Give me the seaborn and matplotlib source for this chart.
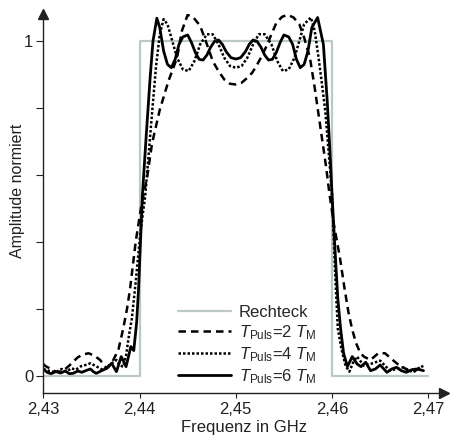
import numpy as np
import matplotlib
matplotlib.use("Agg")
import matplotlib.pyplot as plt
import seaborn as sns

# frequency axis in GHz, amplitude normalised
rect_f = [2.430, 2.440, 2.440, 2.460, 2.460, 2.470]
rect_v = [0, 0, 1, 1, 0, 0]

t2_f = [2.4300, 2.4302, 2.4308, 2.4313, 2.4317, 2.4322, 2.4327, 2.4331, 2.4336, 2.4341,
        2.4347, 2.4353, 2.4359, 2.4363, 2.4366, 2.4371, 2.4375, 2.4378, 2.4383, 2.4387,
        2.4390, 2.4396, 2.4402, 2.4408, 2.4413, 2.4421, 2.4430, 2.4439, 2.4444, 2.4450,
        2.4456, 2.4463, 2.4470, 2.4476, 2.4482, 2.4488, 2.4494, 2.4500, 2.4506, 2.4512,
        2.4517, 2.4521, 2.4527, 2.4532, 2.4537, 2.4542, 2.4548, 2.4554, 2.4560, 2.4566,
        2.4571, 2.4577, 2.4582, 2.4586, 2.4590, 2.4594, 2.4597, 2.4602, 2.4608, 2.4613,
        2.4617, 2.4621, 2.4625, 2.4629, 2.4633, 2.4640, 2.4648, 2.4655, 2.4663, 2.4668,
        2.4674, 2.4679, 2.4684, 2.4690, 2.4695]
t2_v = [0.035, 0.029, 0.020, 0.012, 0.012, 0.018, 0.030, 0.042, 0.055, 0.063,
        0.067, 0.060, 0.047, 0.032, 0.022, 0.037, 0.060, 0.077, 0.140, 0.200,
        0.256, 0.400, 0.510, 0.595, 0.694, 0.794, 0.880, 0.950, 1.030, 1.078,
        1.070, 1.045, 0.990, 0.940, 0.910, 0.885, 0.872, 0.870, 0.875, 0.890,
        0.905, 0.923, 0.955, 0.985, 1.020, 1.053, 1.072, 1.078, 1.070, 1.050,
        1.010, 0.950, 0.860, 0.780, 0.700, 0.620, 0.550, 0.450, 0.356, 0.260,
        0.190, 0.137, 0.097, 0.070, 0.057, 0.047, 0.067, 0.067, 0.047, 0.035,
        0.025, 0.015, 0.010, 0.022, 0.035]

t4_f = [2.4300, 2.4305, 2.4310, 2.4314, 2.4319, 2.4324, 2.4329, 2.4334, 2.4339, 2.4344,
        2.4349, 2.4355, 2.4362, 2.4368, 2.4376, 2.4380, 2.4383, 2.4386, 2.4389, 2.4392,
        2.4396, 2.4401, 2.4406, 2.4412, 2.4417, 2.4421, 2.4425, 2.4429, 2.4434, 2.4439,
        2.4445, 2.4451, 2.4457, 2.4463, 2.4470, 2.4476, 2.4482, 2.4488, 2.4494, 2.4500,
        2.4506, 2.4512, 2.4518, 2.4524, 2.4530, 2.4537, 2.4543, 2.4549, 2.4555, 2.4561,
        2.4566, 2.4571, 2.4578, 2.4582, 2.4586, 2.4590, 2.4593, 2.4597, 2.4600, 2.4603,
        2.4606, 2.4610, 2.4614, 2.4618, 2.4622, 2.4626, 2.4633, 2.4640, 2.4650, 2.4660,
        2.4667, 2.4674, 2.4684, 2.4695]
t4_v = [0.020, 0.015, 0.012, 0.012, 0.020, 0.012, 0.022, 0.018, 0.028, 0.032,
        0.037, 0.028, 0.017, 0.030, 0.047, 0.030, 0.027, 0.060, 0.120, 0.170,
        0.280, 0.430, 0.540, 0.750, 0.920, 1.020, 1.065, 1.050, 1.000, 0.950,
        0.915, 0.910, 0.940, 0.990, 1.020, 1.020, 0.990, 0.950, 0.925, 0.920,
        0.925, 0.950, 0.990, 1.020, 1.020, 0.990, 0.940, 0.910, 0.915, 0.950,
        1.000, 1.050, 1.070, 1.030, 0.950, 0.860, 0.790, 0.650, 0.540, 0.320,
        0.140, 0.077, 0.030, 0.012, 0.040, 0.057, 0.030, 0.035, 0.045, 0.015,
        0.020, 0.025, 0.010, 0.030]

t6_f = [2.4300, 2.4304, 2.4308, 2.4313, 2.4318, 2.4323, 2.4327, 2.4331, 2.4336, 2.4340,
        2.4345, 2.4349, 2.4352, 2.4355, 2.4360, 2.4366, 2.4371, 2.4376, 2.4381, 2.4386,
        2.4391, 2.4394, 2.4397, 2.4399, 2.4401, 2.4403, 2.4407, 2.4411, 2.4414, 2.4418,
        2.4421, 2.4425, 2.4429, 2.4433, 2.4437, 2.4441, 2.4445, 2.4450, 2.4454, 2.4458,
        2.4462, 2.4466, 2.4470, 2.4474, 2.4478, 2.4482, 2.4486, 2.4490, 2.4495, 2.4500,
        2.4505, 2.4510, 2.4514, 2.4518, 2.4522, 2.4526, 2.4530, 2.4534, 2.4538, 2.4542,
        2.4546, 2.4550, 2.4555, 2.4559, 2.4563, 2.4567, 2.4571, 2.4575, 2.4579, 2.4585,
        2.4591, 2.4595, 2.4598, 2.4600, 2.4603, 2.4606, 2.4609, 2.4612, 2.4616, 2.4621,
        2.4626, 2.4630, 2.4635, 2.4640, 2.4645, 2.4650, 2.4657, 2.4662, 2.4667, 2.4672,
        2.4677, 2.4683, 2.4688, 2.4695]
t6_v = [0.020, 0.010, 0.006, 0.012, 0.008, 0.014, 0.006, 0.007, 0.014, 0.010,
        0.016, 0.020, 0.012, 0.007, 0.014, 0.022, 0.037, 0.012, 0.057, 0.027,
        0.087, 0.075, 0.160, 0.260, 0.400, 0.540, 0.720, 0.890, 1.000, 1.068,
        1.040, 0.970, 0.930, 0.920, 0.945, 0.990, 1.012, 1.018, 0.995, 0.965,
        0.945, 0.943, 0.958, 0.982, 0.999, 1.003, 0.990, 0.968, 0.950, 0.946,
        0.950, 0.968, 0.990, 1.003, 0.999, 0.982, 0.958, 0.943, 0.945, 0.965,
        0.995, 1.018, 1.012, 0.990, 0.945, 0.920, 0.930, 0.970, 1.040, 1.070,
        0.990, 0.820, 0.660, 0.540, 0.380, 0.230, 0.137, 0.067, 0.027, 0.057,
        0.035, 0.027, 0.040, 0.015, 0.020, 0.032, 0.010, 0.020, 0.025, 0.015,
        0.010, 0.018, 0.020, 0.015]

labels = ["Rechteck",
          r"$T_{\mathrm{Puls}}$=2 $T_{\mathrm{M}}$",
          r"$T_{\mathrm{Puls}}$=4 $T_{\mathrm{M}}$",
          r"$T_{\mathrm{Puls}}$=6 $T_{\mathrm{M}}$"]
xticks = [2.43, 2.44, 2.45, 2.46, 2.47]
xticklabels = ["2,43", "2,44", "2,45", "2,46", "2,47"]
yticks = [0, 0.2, 0.4, 0.6, 0.8, 1.0]
yticklabels = ["0", "", "", "", "", "1"]

sns.set_theme(style="ticks")
plt.rcParams["font.family"] = ["Liberation Sans", "DejaVu Sans"]
plt.rcParams["mathtext.fontset"] = "custom"
plt.rcParams["mathtext.rm"] = "Liberation Sans"
plt.rcParams["mathtext.it"] = "Liberation Sans:italic"

axis_col = "#222222"
fig = plt.figure(figsize=(4.61, 4.44), dpi=100)
ax = fig.add_axes([0.0939, 0.1149, 0.8692, 0.8532])

sns.lineplot(x=rect_f, y=rect_v, ax=ax, sort=False, estimator=None,
             color="#bcc7c7", lw=1.6, label=labels[0])
sns.lineplot(x=t2_f, y=t2_v, ax=ax, sort=False, estimator=None,
             color="black", lw=1.8, linestyle=(0, (3, 2)), label=labels[1])
sns.lineplot(x=t4_f, y=t4_v, ax=ax, sort=False, estimator=None,
             color="black", lw=1.8, linestyle=(0, (1, 0.8)), label=labels[2])
sns.lineplot(x=t6_f, y=t6_v, ax=ax, sort=False, estimator=None,
             color="black", lw=2.0, label=labels[3])

ax.set_xlim(2.43, 2.47163)
ax.set_ylim(-0.0517, 1.08)
ax.set_xticks(xticks)
ax.set_xticklabels(xticklabels)
ax.set_yticks(yticks)
ax.set_yticklabels(yticklabels)
ax.tick_params(axis="x", direction="out", length=3.6, width=0.8, color=axis_col,
               labelsize=12, pad=3, labelcolor="#222222")
ax.tick_params(axis="y", direction="out", length=4.7, width=0.8, color=axis_col,
               labelsize=12, pad=2.5, labelcolor="#222222")

for side in ["top", "right"]:
    ax.spines[side].set_visible(False)
for side in ["left", "bottom"]:
    ax.spines[side].set_color(axis_col)
    ax.spines[side].set_linewidth(1.0)
ax.plot(1, 0, ">", color=axis_col, ms=7, transform=ax.transAxes, clip_on=False)
ax.plot(0, 1, "^", color=axis_col, ms=7, transform=ax.transAxes, clip_on=False)

ax.set_xlabel("Frequenz in GHz", fontsize=12, color="#222222")
ax.set_ylabel("Amplitude normiert", fontsize=11.5, color="#222222")
ax.xaxis.set_label_coords(0.5, -0.072)
ax.yaxis.set_label_coords(-0.045, 0.535)

ax.legend(loc="lower left", bbox_to_anchor=(0.318, 0.0), frameon=False,
          fontsize=12, handlelength=3.2, handletextpad=0.45, labelspacing=0.2,
          borderpad=0, borderaxespad=0.44)

fig.savefig("out.png", dpi=100)
